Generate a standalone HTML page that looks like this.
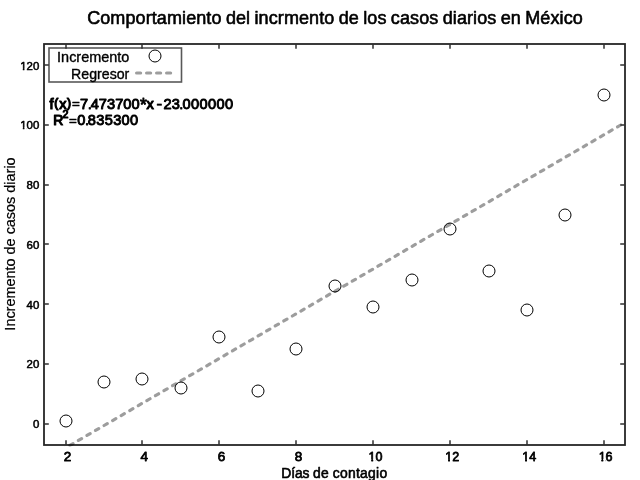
<!DOCTYPE html>
<html lang="es"><head><meta charset="utf-8"><title>Comportamiento del incrmento de los casos diarios en México</title>
<style>html,body{margin:0;padding:0;background:#fff;overflow:hidden}svg{display:block}text{font-family:"Liberation Sans",Arial,Helvetica,sans-serif;fill:#000;stroke:#000;stroke-linejoin:round}</style>
</head><body>
<svg width="640" height="480" viewBox="0 0 640 480">
<rect x="0" y="0" width="640" height="480" fill="#ffffff"/>
<defs><clipPath id="ax"><rect x="43.0" y="43.0" width="583.0" height="403.4"/></clipPath><clipPath id="cx"><path clip-rule="evenodd" d="M-20 -20H20V10H-20ZM-10 -1.66H-4.50V2H-10ZM-2.52 -1.66H0.00V2H-2.52Z"/></clipPath><clipPath id="cy"><path clip-rule="evenodd" d="M-30 -20H10V10H-30ZM-22 -1.27H-15.83V2H-22ZM-14.36 -1.27H-12.23V2H-14.36Z"/></clipPath></defs>
<rect x="44.0" y="44.0" width="581.0" height="401.0" fill="none" stroke="#262626" stroke-width="1.8"/>
<circle cx="66" cy="421" r="6" fill="#fff" stroke="#000" stroke-width="1"/>
<circle cx="104" cy="382" r="6" fill="#fff" stroke="#000" stroke-width="1"/>
<circle cx="142" cy="379" r="6" fill="#fff" stroke="#000" stroke-width="1"/>
<circle cx="181" cy="388" r="6" fill="#fff" stroke="#000" stroke-width="1"/>
<circle cx="219" cy="337" r="6" fill="#fff" stroke="#000" stroke-width="1"/>
<circle cx="258" cy="391" r="6" fill="#fff" stroke="#000" stroke-width="1"/>
<circle cx="296" cy="349" r="6" fill="#fff" stroke="#000" stroke-width="1"/>
<circle cx="335" cy="286" r="6" fill="#fff" stroke="#000" stroke-width="1"/>
<circle cx="373" cy="307" r="6" fill="#fff" stroke="#000" stroke-width="1"/>
<circle cx="412" cy="280" r="6" fill="#fff" stroke="#000" stroke-width="1"/>
<circle cx="450" cy="229" r="6" fill="#fff" stroke="#000" stroke-width="1"/>
<circle cx="489" cy="271" r="6" fill="#fff" stroke="#000" stroke-width="1"/>
<circle cx="527" cy="310" r="6" fill="#fff" stroke="#000" stroke-width="1"/>
<circle cx="565" cy="215" r="6" fill="#fff" stroke="#000" stroke-width="1"/>
<circle cx="604" cy="95" r="6" fill="#fff" stroke="#000" stroke-width="1"/>
<g clip-path="url(#ax)"><line x1="61.28" y1="450.38" x2="622.00" y2="124.27" stroke="#000" stroke-opacity="0.385" stroke-width="3.15" stroke-dasharray="3.7 6.2" stroke-linecap="round" fill="none"/></g>
<rect x="49" y="48" width="132.5" height="34" fill="#fff" stroke="#595959" stroke-width="1.6"/>
<text transform="translate(129.3 61.8) scale(1.04 1)" font-size="13.89" text-anchor="end" stroke-width="0.35">Incremento</text>
<text transform="translate(129.3 78.8) scale(1.02 1)" font-size="13.89" text-anchor="end" stroke-width="0.35">Regresor</text>
<circle cx="155" cy="56" r="6" fill="#fff" stroke="#000" stroke-width="1"/>
<line x1="136.6" y1="73" x2="171.5" y2="73" stroke="#000" stroke-opacity="0.385" stroke-width="3.2" stroke-dasharray="4 6" stroke-linecap="round"/>
<path d="M66.0 445.0V440.2M66.0 44.0V48.8M142.0 445.0V440.2M142.0 44.0V48.8M219.0 445.0V440.2M219.0 44.0V48.8M296.0 445.0V440.2M296.0 44.0V48.8M373.0 445.0V440.2M373.0 44.0V48.8M450.0 445.0V440.2M450.0 44.0V48.8M527.0 445.0V440.2M527.0 44.0V48.8M604.0 445.0V440.2M604.0 44.0V48.8M44.0 424.0H48.8M625.0 424.0H620.2M44.0 364.0H48.8M625.0 364.0H620.2M44.0 304.0H48.8M625.0 304.0H620.2M44.0 244.0H48.8M625.0 244.0H620.2M44.0 185.0H48.8M625.0 185.0H620.2M44.0 125.0H48.8M625.0 125.0H620.2M44.0 65.0H48.8M625.0 65.0H620.2" stroke="#303030" stroke-width="1.5" fill="none"/>
<text x="49.60 54.36 59.13 67.02 72.10 80.02 87.70 90.70 98.86 107.02 115.18 123.34 131.50 140.00 146.48 153.70 156.20 163.47 171.65 179.20 182.60 191.06 199.52 207.98 216.44 224.90" y="108.7" font-size="14.6" stroke-width="1.2">f<tspan font-size="12.2" dy="-1.7">(</tspan><tspan dy="1.7">x</tspan><tspan font-size="12.2" dy="-1.7">)</tspan><tspan dy="1.3" font-size="13.4" stroke-width="0.6">=</tspan><tspan dy="0.4" stroke-width="0.95">7<tspan stroke-width="0.8">.</tspan>473700</tspan><tspan font-size="17.5" dy="1.9" stroke-width="0.9">*</tspan><tspan dy="-1.9">x </tspan><tspan font-size="18.5" dy="1.1" stroke-width="0.5">-</tspan><tspan dy="-1.1" stroke-width="0.95">23<tspan stroke-width="0.8">.</tspan>000000</tspan></text>
<text x="53.30 62.50 68.90 77.23 85.00 87.70 96.18 104.66 113.14 121.62 130.10" y="124.6" font-size="14" stroke-width="1.2">R<tspan y="117.6" font-size="10.6" stroke-width="1.1">2</tspan><tspan y="124.6" font-size="13.4" stroke-width="0.6">=</tspan><tspan y="124.7" font-size="14.6" stroke-width="0.95">0<tspan stroke-width="0.8">.</tspan>835300</tspan></text>
<text x="335" y="24.1" font-size="18" text-anchor="middle" stroke-width="0.6" letter-spacing="0.1" word-spacing="-0.8">Comportamiento del incrmento de los casos diarios en México</text>
<text transform="translate(67.4 460.7) scale(1 1)" font-size="13.5" text-anchor="middle" stroke-width="0.8">2</text>
<text transform="translate(144.3 460.7) scale(1 1)" font-size="13.5" text-anchor="middle" stroke-width="0.8">4</text>
<text transform="translate(221.5 460.7) scale(1 1)" font-size="13.5" text-anchor="middle" stroke-width="0.8">6</text>
<text transform="translate(298.5 460.7) scale(1 1)" font-size="13.5" text-anchor="middle" stroke-width="0.8">8</text>
<text transform="translate(375.5 460.7) scale(0.93 1)" clip-path="url(#cx)" font-size="13.5" text-anchor="middle" stroke-width="0.8">10</text>
<text transform="translate(452.3 460.7) scale(0.93 1)" clip-path="url(#cx)" font-size="13.5" text-anchor="middle" stroke-width="0.8">12</text>
<text transform="translate(529.3 460.7) scale(0.93 1)" clip-path="url(#cx)" font-size="13.5" text-anchor="middle" stroke-width="0.8">14</text>
<text transform="translate(605.6 460.7) scale(0.93 1)" clip-path="url(#cx)" font-size="13.5" text-anchor="middle" stroke-width="0.8">16</text>
<text transform="translate(39.3 427.95) scale(1.04 1)" font-size="11" text-anchor="end" stroke-width="0.5">0</text>
<text transform="translate(39.3 368.00) scale(1.04 1)" font-size="11" text-anchor="end" stroke-width="0.5">20</text>
<text transform="translate(39.3 308.80) scale(1.04 1)" font-size="11" text-anchor="end" stroke-width="0.5">40</text>
<text transform="translate(39.3 248.70) scale(1.04 1)" font-size="11" text-anchor="end" stroke-width="0.5">60</text>
<text transform="translate(39.3 188.70) scale(1.04 1)" font-size="11" text-anchor="end" stroke-width="0.5">80</text>
<text transform="translate(39.3 128.70) scale(1.04 1)" clip-path="url(#cy)" font-size="11" text-anchor="end" stroke-width="0.5">100</text>
<text transform="translate(39.3 69.90) scale(1.04 1)" clip-path="url(#cy)" font-size="11" text-anchor="end" stroke-width="0.5">120</text>
<text y="477.7" font-size="13.89" stroke-width="0.6"><tspan x="281.3" letter-spacing="-0.12">Días </tspan><tspan x="312.9" letter-spacing="0.3">de </tspan><tspan x="332.8" letter-spacing="0.27">contagio</tspan></text>
<text transform="translate(14.7 244) rotate(-90) scale(1.04 1)" font-size="13.89" text-anchor="middle" stroke-width="0.2">Incremento de casos diario</text>
</svg></body></html>
